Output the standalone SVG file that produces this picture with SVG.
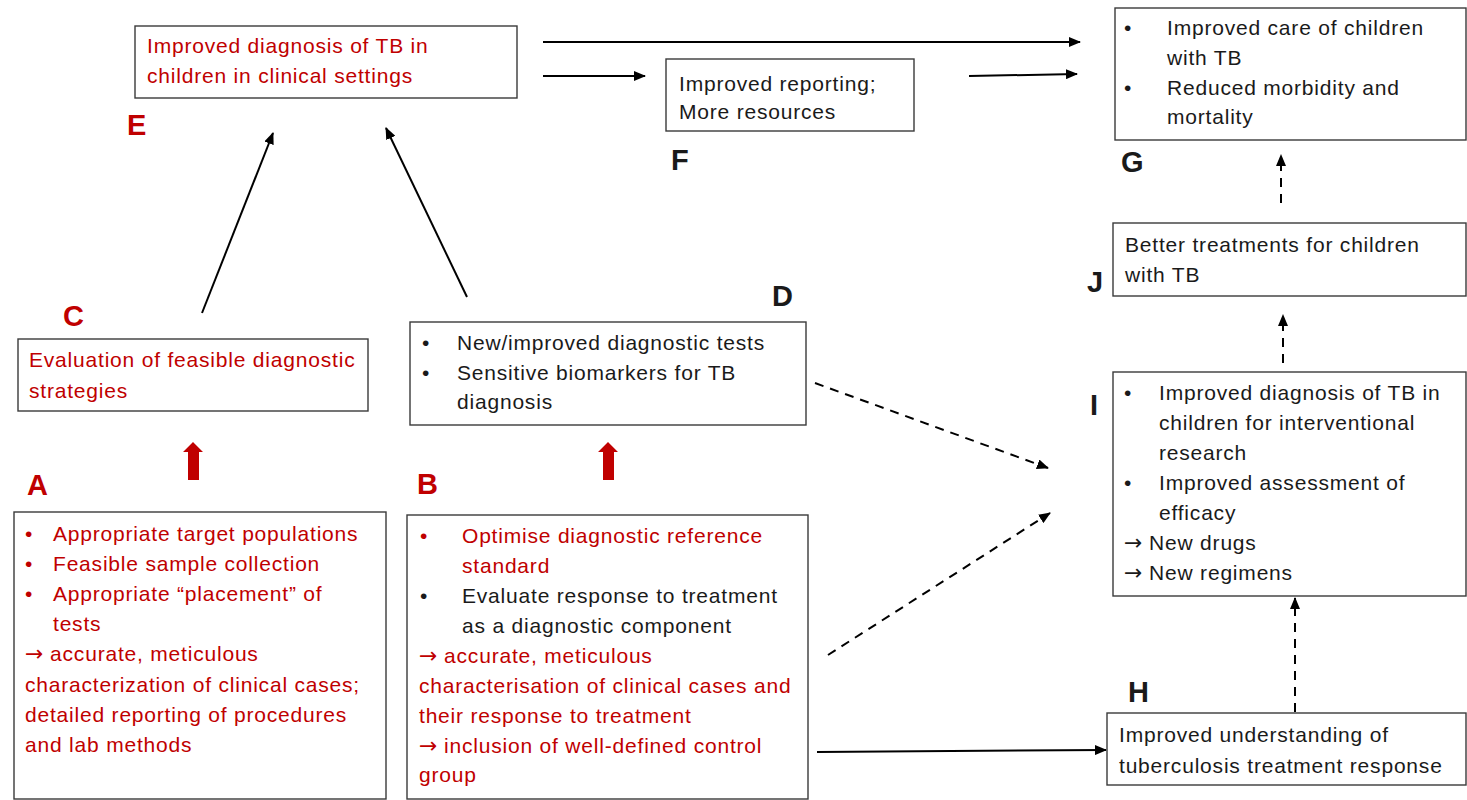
<svg xmlns="http://www.w3.org/2000/svg" width="1467" height="800" viewBox="0 0 1467 800">
<defs>
<style>
.box{fill:#fff;stroke:#3a3a3a;stroke-width:1.4}
.t{font-family:"Liberation Sans","DejaVu Sans",sans-serif;font-size:21px;letter-spacing:0.8px}
.ar{font-family:"DejaVu Sans",sans-serif;font-size:22px;letter-spacing:0}
.r{fill:#C00000}
.k{fill:#1a1a1a}
.lbl{font-family:"Liberation Sans","DejaVu Sans",sans-serif;font-size:29px;font-weight:bold}
.ln{stroke:#000;stroke-width:2;fill:none}
.dash{stroke:#000;stroke-width:2;fill:none;stroke-dasharray:9 7}
.blk{fill:#C00000}
</style>
<marker id="ah" markerUnits="userSpaceOnUse" markerWidth="12" markerHeight="10" refX="11" refY="5" orient="auto">
<path d="M0,0 L12,5 L0,10 z" fill="#000"/>
</marker>
</defs>
<rect width="1467" height="800" fill="#fff"/>

<g id="connectors">
<line class="ln" x1="543" y1="42" x2="1080" y2="42" marker-end="url(#ah)"/>
<line class="ln" x1="543" y1="76" x2="645" y2="76" marker-end="url(#ah)"/>
<line class="ln" x1="969" y1="76" x2="1077" y2="74" marker-end="url(#ah)"/>
<line class="ln" x1="202" y1="313" x2="273" y2="133" marker-end="url(#ah)"/>
<line class="ln" x1="467" y1="297" x2="386" y2="128" marker-end="url(#ah)"/>
<line class="dash" x1="815" y1="383" x2="1048" y2="468" marker-end="url(#ah)"/>
<line class="dash" x1="828" y1="655" x2="1050" y2="513" marker-end="url(#ah)"/>
<line class="ln" x1="817" y1="752" x2="1106" y2="750" marker-end="url(#ah)"/>
<line class="dash" x1="1295" y1="712" x2="1295" y2="598" marker-end="url(#ah)"/>
<line class="dash" x1="1283" y1="363" x2="1283" y2="315" marker-end="url(#ah)"/>
<line class="dash" x1="1281" y1="203" x2="1281" y2="155" marker-end="url(#ah)"/>
<polygon class="blk" points="193,442 203,452 199,452 199,480 188,480 188,452 183,452"/>
<polygon class="blk" points="608,442 618,452 614,452 614,480 603,480 603,452 598,452"/>
</g>

<g id="node-E">
<rect class="box" x="135" y="26" width="382" height="72"/>
<text class="t r" x="147" y="53">Improved diagnosis of TB in</text>
<text class="t r" x="147" y="83">children in clinical settings</text>
<text class="lbl r" x="127" y="135">E</text>
</g>

<g id="node-F">
<rect class="box" x="666" y="59" width="248" height="72"/>
<text class="t k" x="679" y="91">Improved reporting;</text>
<text class="t k" x="679" y="119">More resources</text>
<text class="lbl k" x="671" y="170">F</text>
</g>

<g id="node-G">
<rect class="box" x="1115" y="8" width="351" height="132"/>
<text class="t k" x="1124" y="35">•</text>
<text class="t k" x="1167" y="35">Improved care of children</text>
<text class="t k" x="1167" y="65">with TB</text>
<text class="t k" x="1124" y="95">•</text>
<text class="t k" x="1167" y="95">Reduced morbidity and</text>
<text class="t k" x="1167" y="124">mortality</text>
<text class="lbl k" x="1121" y="172">G</text>
</g>

<g id="node-J">
<rect class="box" x="1113" y="223" width="353" height="73"/>
<text class="t k" x="1125" y="252">Better treatments for children</text>
<text class="t k" x="1125" y="282">with TB</text>
<text class="lbl k" x="1087" y="292">J</text>
</g>

<g id="node-I">
<rect class="box" x="1113" y="372" width="353" height="224"/>
<text class="t k" x="1124" y="400">•</text>
<text class="t k" x="1159" y="400">Improved diagnosis of TB in</text>
<text class="t k" x="1159" y="430">children for interventional</text>
<text class="t k" x="1159" y="460">research</text>
<text class="t k" x="1124" y="490">•</text>
<text class="t k" x="1159" y="490">Improved assessment of</text>
<text class="t k" x="1159" y="520">efficacy</text>
<text class="t k" x="1124" y="550"><tspan class="ar">→</tspan> New drugs</text>
<text class="t k" x="1124" y="580"><tspan class="ar">→</tspan> New regimens</text>
<text class="lbl k" x="1090" y="415">I</text>
</g>

<g id="node-H">
<rect class="box" x="1107" y="713" width="359" height="72"/>
<text class="t k" x="1119" y="742">Improved understanding of</text>
<text class="t k" x="1119" y="773">tuberculosis treatment response</text>
<text class="lbl k" x="1128" y="702">H</text>
</g>

<g id="node-C">
<rect class="box" x="18" y="339" width="350" height="72"/>
<text class="t r" x="29" y="367">Evaluation of feasible diagnostic</text>
<text class="t r" x="29" y="398">strategies</text>
<text class="lbl r" x="63" y="326">C</text>
</g>

<g id="node-D">
<rect class="box" x="410" y="322" width="396" height="103"/>
<text class="t k" x="422" y="350">•</text>
<text class="t k" x="457" y="350">New/improved diagnostic tests</text>
<text class="t k" x="422" y="380">•</text>
<text class="t k" x="457" y="380">Sensitive biomarkers for TB</text>
<text class="t k" x="457" y="409">diagnosis</text>
<text class="lbl k" x="772" y="306">D</text>
</g>

<g id="node-A">
<rect class="box" x="14" y="512" width="372" height="287"/>
<text class="t r" x="25" y="541">•</text>
<text class="t r" x="53" y="541">Appropriate target populations</text>
<text class="t r" x="25" y="571">•</text>
<text class="t r" x="53" y="571">Feasible sample collection</text>
<text class="t r" x="25" y="601">•</text>
<text class="t r" x="53" y="601">Appropriate “placement” of</text>
<text class="t r" x="53" y="631">tests</text>
<text class="t r" x="25" y="661"><tspan class="ar">→</tspan> accurate, meticulous</text>
<text class="t r" x="25" y="692">characterization of clinical cases;</text>
<text class="t r" x="25" y="722">detailed reporting of procedures</text>
<text class="t r" x="25" y="752">and lab methods</text>
<text class="lbl r" x="27" y="495">A</text>
</g>

<g id="node-B">
<rect class="box" x="407" y="515" width="401" height="284"/>
<text class="t r" x="420" y="543">•</text>
<text class="t r" x="462" y="543">Optimise diagnostic reference</text>
<text class="t r" x="462" y="573">standard</text>
<text class="t k" x="420" y="603">•</text>
<text class="t k" x="462" y="603">Evaluate response to treatment</text>
<text class="t k" x="462" y="633">as a diagnostic component</text>
<text class="t r" x="419" y="663"><tspan class="ar">→</tspan> accurate, meticulous</text>
<text class="t r" x="419" y="693">characterisation of clinical cases and</text>
<text class="t r" x="419" y="723">their response to treatment</text>
<text class="t r" x="419" y="753"><tspan class="ar">→</tspan> inclusion of well-defined control</text>
<text class="t r" x="419" y="782">group</text>
<text class="lbl r" x="417" y="494">B</text>
</g>
</svg>
